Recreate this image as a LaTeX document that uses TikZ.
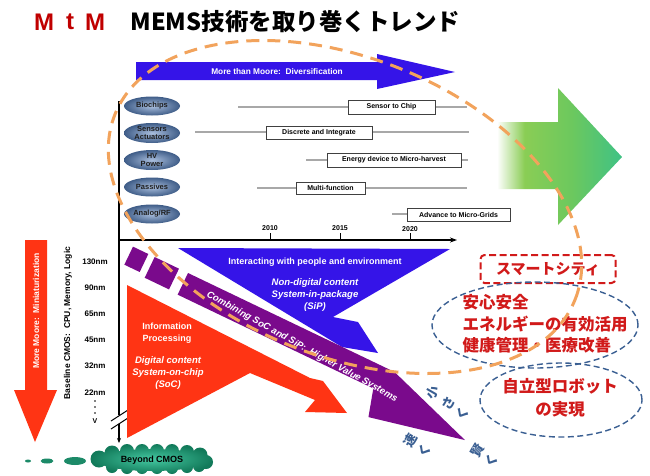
\documentclass[tikz,border=0pt]{standalone}
\usepackage{fontspec}
\setmainfont{Liberation Sans}
\newfontfamily\jp{Noto Sans CJK JP}
\usetikzlibrary{shapes.symbols,shapes.geometric,arrows.meta}
\definecolor{mblue}{HTML}{3514E8}
\definecolor{mpurple}{HTML}{7A0A8C}
\definecolor{mred}{HTML}{FF3414}
\definecolor{morange}{HTML}{F2A35C}
\definecolor{jred}{HTML}{D11A1A}
\definecolor{jblue}{HTML}{3A5F92}
\definecolor{ellin}{HTML}{A9BEDD}
\definecolor{ellout}{HTML}{3F5D88}
\definecolor{linegray}{HTML}{A8A8A8}
\definecolor{cloudin}{HTML}{45C9A2}
\definecolor{cloudout}{HTML}{127A5A}
\definecolor{titlered}{HTML}{C00000}
\definecolor{gA}{HTML}{8ACD55}
\definecolor{gM}{HTML}{6CC85E}
\definecolor{gB}{HTML}{3FC285}
\pgfdeclarehorizontalshading{greenarrow}{100bp}{color(0bp)=(white); color(25bp)=(white); color(36bp)=(gA); color(55bp)=(gM); color(75bp)=(gB); color(100bp)=(gB)}
\begin{document}
\begin{tikzpicture}[x=1pt,y=-1pt,
  oval/.style={ellipse, minimum width=56pt, minimum height=19pt, inner sep=0pt, shading=radial, inner color=ellin, outer color=ellout, font=\bfseries\fontsize{7.5}{8}\selectfont, text=black!88, align=center},
  tline/.style={draw=linegray, line width=1.6pt},
  tbox/.style={draw=black!75, fill=white, line width=0.7pt, inner sep=0pt, font=\bfseries\fontsize{7}{8}\selectfont},
  axisline/.style={draw=black, line width=1.3pt},
  nmlbl/.style={font=\bfseries\fontsize{8}{9}\selectfont},
  yearlbl/.style={font=\bfseries\fontsize{7}{8}\selectfont},
  wtxt/.style={text=white, font=\bfseries\fontsize{9}{11.5}\selectfont, align=center},
  witxt/.style={text=white, font=\bfseries\itshape\fontsize{9.5}{11.8}\selectfont, align=center},
  jtxt/.style={text=jred, font=\jp\bfseries\fontsize{16.5}{21.5}\selectfont},
  jell/.style={ellipse, draw=jblue, line width=1.4pt, dash pattern=on 6pt off 3.5pt, inner sep=0pt},
  jrot/.style={text=jblue, font=\jp\bfseries\fontsize{13}{13}\selectfont, rotate=60, inner sep=0pt},
  orangedash/.style={draw=morange, line width=3pt, dash pattern=on 13pt off 8pt},
  tred/.style={text=titlered, font=\bfseries\fontsize{24}{24}\selectfont}
]
\useasboundingbox (0,0) rectangle (650,475);
\fill[white] (0,0) rectangle (650,475);

% title
\node[tred] (m1) at (44,22) {M};
\node[tred] (t1) at (70,22) {t};
\node[tred] (m2) at (95,22) {M};
\node[anchor=west, font=\jp\bfseries\fontsize{23.5}{24}\selectfont] (title) at (127,22) {MEMS技術を取り巻くトレンド};

% top blue arrow
\fill[mblue] (136,62) -- (377,62) -- (377,54) -- (455,72) -- (377,89) -- (377,80) -- (136,80) -- cycle;
\node[text=white, font=\bfseries\fontsize{8.3}{9}\selectfont] (mtm) at (277,72) {More than Moore:\ \ Diversification};

% green arrow
\shade[shading=greenarrow] (497,122) -- (558,122) -- (558,88) -- (622,157) -- (558,225) -- (558,189) -- (497,189) -- cycle;

% timelines
\coordinate (r1a) at (238,107); \coordinate (r1b) at (467,107);
\coordinate (r2a) at (195,132); \coordinate (r2b) at (469,132);
\coordinate (r3a) at (306,160); \coordinate (r3b) at (468,160);
\coordinate (r4a) at (257,188); \coordinate (r4b) at (467,188);
\coordinate (r5a) at (392,214); \coordinate (r5b) at (408,214);
\draw[tline] (r1a) -- (r1b);
\draw[tline] (r2a) -- (r2b);
\draw[tline] (r3a) -- (r3b);
\draw[tline] (r4a) -- (r4b);
\draw[tline] (r5a) -- (r5b);
\node[tbox, minimum width=87pt, minimum height=14pt] (b1) at (391.5,107) {Sensor to Chip};
\node[tbox, minimum width=106pt, minimum height=13pt] (b2) at (319,132.5) {Discrete and Integrate};
\node[tbox, minimum width=134pt, minimum height=14pt] (b3) at (394,160) {Energy device to Micro-harvest};
\node[tbox, minimum width=69pt, minimum height=12pt] (b4) at (330.5,188) {Multi-function};
\node[tbox, minimum width=103pt, minimum height=13pt] (b5) at (458.5,214.5) {Advance to Micro-Grids};

% ovals
\node[oval] (bio) at (152,106) {Biochips};
\node[oval, minimum height=20pt] (sen) at (152,133) {Sensors\\Actuators};
\node[oval, minimum height=20pt] (hv) at (152,160) {HV\\Power};
\node[oval] (pas) at (152,187) {Passives};
\node[oval] (ana) at (152,214) {Analog/RF};

% axes
\coordinate (o) at (119,240); \coordinate (xe) at (457,240);
\coordinate (yt) at (119,101); \coordinate (yb1) at (119,415);
\coordinate (yb2) at (119,424); \coordinate (ye) at (119,443);
\draw[axisline, -{Stealth[length=7pt,width=5pt]}] (o) -- (xe);
\draw[axisline] (yt) -- (o) -- (yb1);
\draw[axisline, -{Stealth[length=5pt,width=4pt]}] (yb2) -- (ye);
\coordinate (br1a) at (111,421); \coordinate (br1b) at (128,410);
\coordinate (br2a) at (111,429); \coordinate (br2b) at (128,418);
\draw[line width=1pt] (br1a) -- (br1b);
\draw[line width=1pt] (br2a) -- (br2b);
\coordinate (tk1) at (270,240); \coordinate (tk1t) at (270,233);
\coordinate (tk2) at (340,240); \coordinate (tk2t) at (340,233);
\coordinate (tk3) at (410,240); \coordinate (tk3t) at (410,233);
\draw[line width=1pt] (tk1) -- (tk1t);
\draw[line width=1pt] (tk2) -- (tk2t);
\draw[line width=1pt] (tk3) -- (tk3t);
\node[yearlbl] (y1) at (270,228) {2010};
\node[yearlbl] (y2) at (340,228) {2015};
\node[yearlbl] (y3) at (410,229) {2020};

% node sizes
\node[nmlbl] (n1) at (95,262) {130nm};
\node[nmlbl] (n2) at (95,288) {90nm};
\node[nmlbl] (n3) at (95,314) {65nm};
\node[nmlbl] (n4) at (95,340) {45nm};
\node[nmlbl] (n5) at (95,366) {32nm};
\node[nmlbl] (n6) at (95,393) {22nm};
\fill (95,401) circle (0.8pt);
\fill (95,407) circle (0.8pt);
\fill (95,413) circle (0.8pt);
\node[nmlbl, font=\bfseries\fontsize{7}{8}\selectfont] (vv) at (95,421) {V};
\node[rotate=90, font=\bfseries\fontsize{8.5}{9}\selectfont] (base) at (68,323) {Baseline CMOS:\ \ CPU, Memory, Logic};

% more moore arrow
\fill[mred] (25,240) -- (47,240) -- (47,390) -- (57,390) -- (35,442) -- (14,390) -- (25,390) -- cycle;
\node[rotate=90, text=white, font=\bfseries\fontsize{8.5}{9}\selectfont] (mm) at (36,311) {More Moore:\ \ Miniaturization};

% red shape
\fill[mred] (127,285) -- (310,378) -- (323,381) -- (347,413) -- (305,412) -- (315,400) -- (250,373) -- (127,438) -- cycle;
% blue shape
\fill[mblue] (178,248) -- (450,249) -- (333,317) -- (358,322) -- (378,353) -- (342,347) -- cycle;
% purple
\begin{scope}[shift={(188,273)}, rotate=-25.6]
  \fill[mpurple] (-61,0) rectangle (-44,20);
  \fill[mpurple] (-37,0) rectangle (-10,23);
  \fill[mpurple] (0,0) -- (229,0) -- (322,31) -- (225,52) -- (217,24) -- (0,24) -- cycle;
\end{scope}
\node[rotate=-29, text=white, font=\bfseries\itshape\fontsize{9.5}{10}\selectfont] (combo) at (302,347) {Combining SoC and SiP:\ \ Higher Value Systems};

\node[wtxt] (info) at (167,333) {Information\\Processing};
\node[witxt] (soc) at (168,373) {Digital content\\System-on-chip\\(SoC)};
\node[wtxt] (inter) at (315,262) {Interacting with people and environment};
\node[witxt] (sip) at (315,295) {Non-digital content\\System-in-package\\(SiP)};

% beyond CMOS cloud
\shade[inner color=cloudin, outer color=cloudout]
  (152,460) ellipse [x radius=56pt, y radius=11pt]
  (99,459) circle (8.5pt) (112,453) circle (7.5pt) (127,451) circle (7pt) (142,451) circle (7pt)
  (157,451) circle (7pt) (172,451) circle (7pt) (187,452) circle (7pt) (200,455) circle (7.5pt) (206,462) circle (7pt)
  (112,467) circle (6pt) (127,468) circle (6pt) (142,468) circle (6pt) (157,468) circle (6pt)
  (172,468) circle (6pt) (187,467) circle (6pt) (199,466) circle (6pt);
\node[font=\bfseries\fontsize{9}{10}\selectfont] (cmos) at (152,460) {Beyond CMOS};
\node[ellipse, fill=cloudout!80!cloudin, minimum width=22pt, minimum height=8pt, inner sep=0pt] (d3) at (75,461) {};
\node[ellipse, fill=cloudout!80!cloudin, minimum width=13pt, minimum height=5pt, inner sep=0pt] (d2) at (47,461) {};
\node[ellipse, fill=cloudout!80!cloudin, minimum width=6pt, minimum height=3pt, inner sep=0pt] (d1) at (28,461) {};

% Japanese
\node[draw=jred, dash pattern=on 7pt off 3.5pt, line width=2pt, rounded corners=4pt, minimum width=135pt, minimum height=28pt, text=jred, font=\jp\bfseries\fontsize{15}{15}\selectfont] (smart) at (548,269) {スマートシティ};
\node[jell, minimum width=206pt, minimum height=86pt] (ell1) at (535,325) {};
\node[jtxt, align=left] (jt1) at (545,324) {安心安全\\エネルギーの有効活用\\健康管理・医療改善};
\node[jell, minimum width=162pt, minimum height=74pt] (ell2) at (561,400) {};
\node[jtxt, align=center, font=\jp\bfseries\fontsize{16.5}{23}\selectfont] (jt2) at (560,398) {自立型ロボット\\の実現};

\node[jrot] (c1) at (433,392) {小};
\node[jrot] (c2) at (448,403) {さ};
\node[jrot] (c3) at (463,413) {く};
\node[jrot] (c4) at (410,440) {速};
\node[jrot] (c5) at (425,450) {く};
\node[jrot] (c6) at (478,450) {賢};
\node[jrot] (c7) at (492,460) {く};

% orange dashed ellipse
\coordinate (oc) at (345,207);
\draw[orangedash, rotate around={-22:(oc)}] (oc) ellipse [x radius=248pt, y radius=149pt];
\end{tikzpicture}
\end{document}
